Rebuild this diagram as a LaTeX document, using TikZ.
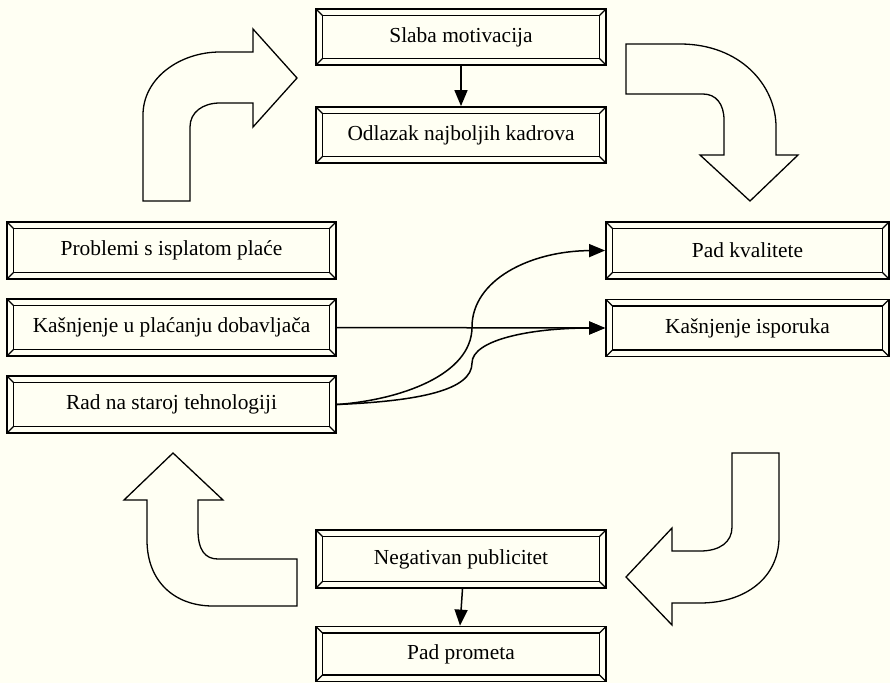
\documentclass[tikz,border=0pt]{standalone}
\usepackage{fontspec}
\setmainfont{Liberation Serif}
\usetikzlibrary{arrows.meta}
\definecolor{paper}{RGB}{255,255,243}

\tikzset{
  frame/.style={draw, line width=1.8pt, fill=paper, minimum height=57pt, inner sep=0pt,
    path picture={
      \draw[line width=1.4pt] ([shift={(6.5pt,-6.5pt)}]path picture bounding box.north west)
        rectangle ([shift={(-6.5pt,6.5pt)}]path picture bounding box.south east);
      \draw[line width=1.1pt] (path picture bounding box.north west) -- ++(6.5pt,-6.5pt);
      \draw[line width=1.1pt] (path picture bounding box.north east) -- ++(-6.5pt,-6.5pt);
      \draw[line width=1.1pt] (path picture bounding box.south west) -- ++(6.5pt,6.5pt);
      \draw[line width=1.1pt] (path picture bounding box.south east) -- ++(-6.5pt,6.5pt);
    }},
  link/.style={line width=1.5pt, -{Triangle[length=16pt,width=13pt]}},
  bigarrow/.style={draw, fill=paper, line width=1.3pt}
}

\begin{document}
\begin{tikzpicture}[x=1pt, y=-1pt, font=\fontsize{21.4}{24}\selectfont]
\fill[paper] (0,0) rectangle (890,683);
\useasboundingbox (0,0) rectangle (890,683);

%top
\node[frame, minimum width=290pt, minimum height=56pt] (slaba) at (461,37) {Slaba motivacija};
\node[frame, minimum width=290pt, minimum height=56pt] (odlazak) at (461,135) {Odlazak najboljih kadrova};
\draw[link] (slaba.south) -- (odlazak.north);

%left
\node[frame, minimum width=329pt] (problemi) at (171.5,250.5) {Problemi s isplatom plaće};
\node[frame, minimum width=329pt] (dobavljaci) at (171.5,327.5) {Kašnjenje u plaćanju dobavljača};
\node[frame, minimum width=329pt] (tehnologija) at (171.5,404.5) {Rad na staroj tehnologiji};

%right
\node[frame, minimum width=283pt] (kvaliteta) at (747.5,250.5) {Pad kvalitete};
\node[frame, minimum width=283pt] (isporuka) at (747.5,328) {Kašnjenje isporuka};

%bottom
\node[frame, minimum width=290pt, minimum height=58pt] (publicitet) at (461,559) {Negativan publicitet};
\node[frame, minimum width=290pt, minimum height=55pt] (promet) at (461,654) {Pad prometa};
\draw[link] ([xshift=1.5pt]publicitet.south) -- ([xshift=-1pt]promet.north);

%links between the middle boxes
\coordinate (s1) at (472,327);
\coordinate (s2) at (472,363);
\draw[link] (dobavljaci.east) -- (isporuka.west);
\draw[link] (tehnologija.east) .. controls (400,400) and (472,375) .. (s1)
  .. controls (472,280) and (530,251) .. (kvaliteta.west);
\draw[link] (tehnologija.east) .. controls (420,401) and (472,390) .. (s2)
  .. controls (472,340) and (530,328) .. (isporuka.west);

%big arrows
%up and right
\draw[bigarrow] (143,201) -- (143,115) .. controls (143,78) and (180,52) .. (220,52) -- (253,52)
  -- (253,29) -- (297,78) -- (253,127) -- (253,103) -- (220,103)
  .. controls (203,103) and (190,112) .. (190,127) -- (190,201) -- cycle;
%right and down
\draw[bigarrow] (626,44) -- (680,44) .. controls (740,44) and (776,85) .. (776,127) -- (776,155)
  -- (798,155) -- (750,201) -- (700,155) -- (724,155) -- (724,120)
  .. controls (724,104) and (716,94) .. (703,94) -- (626,94) -- cycle;
%down and left
\draw[bigarrow] (732,453) -- (779,453) -- (779,537) .. controls (779,578) and (745,603) .. (700,603)
  -- (672,603) -- (672,625) -- (626,577) -- (672,528) -- (672,551) -- (700,551)
  .. controls (720,551) and (732,542) .. (732,527) -- cycle;
%left and up
\draw[bigarrow] (297,559) -- (218,559) .. controls (205,559) and (198,550) .. (198,530)
  -- (198,500) -- (223,500) -- (173,453) -- (124,500) -- (147,500) -- (147,540)
  .. controls (147,582) and (175,606) .. (213,606) -- (297,606) -- cycle;
\end{tikzpicture}
\end{document}
